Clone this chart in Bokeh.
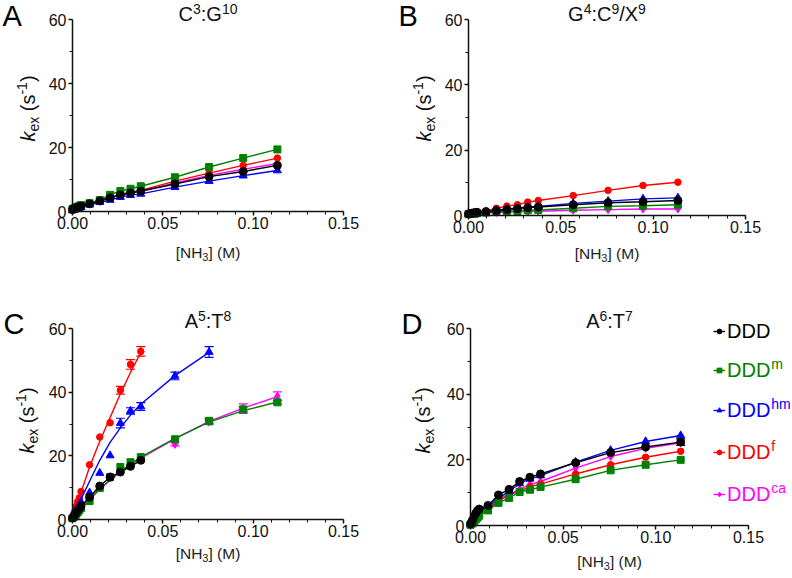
import math
from bokeh.plotting import figure
from bokeh.models import (Range1d, Label, Legend, LegendItem, Whisker,
                          ColumnDataSource, TeeHead, FixedTicker, NumeralTickFormatter)
from bokeh.layouts import column, row
from bokeh.embed import file_html
from bokeh.resources import INLINE

# ---------------- data ----------------
NH3 = [0.0, 0.00094, 0.00189, 0.00283, 0.00378, 0.00472, 0.00945, 0.0151,
       0.0208, 0.0265, 0.0321, 0.0378, 0.0567, 0.0756, 0.0945, 0.1134]

SERIES = ["DDD", "DDDm", "DDDhm", "DDDf", "DDDca"]
SERIES_SUP = ["", "m", "hm", "f", "ca"]
COLORS = ["#000000", "#008000", "#0000ff", "#ff0000", "#ff00ff"]
MARKERS = ["circle", "square", "triangle", "circle", "diamond"]
SIZES = [8, 7, 8, 6.5, 8]

LETTERS = ["A", "B", "C", "D"]
X_TICKS = [0.0, 0.05, 0.10, 0.15]
Y_TICKS = [0, 20, 40, 60]

# Panel A  (C3:G10)
A_DDD   = [0.6, 0.9, 1.1, 1.3, 1.5, 1.7, 2.4, 3.3, 4.3, 5.2, 5.8, 6.4, 8.6, 10.9, 12.5, 14.4]
A_DDDm  = [0.8, 1.0, 1.3, 1.5, 1.7, 2.0, 2.6, 3.6, 5.2, 6.4, 7.1, 7.9, 10.7, 13.9, 16.7, 19.4]
A_DDDhm = [0.3, 0.5, 0.7, 0.9, 1.1, 1.3, 2.1, 2.9, 3.6, 4.5, 5.1, 5.5, 7.6, 9.5, 11.2, 12.8]
A_DDDf  = [0.6, 0.9, 1.1, 1.3, 1.5, 1.8, 2.5, 3.4, 4.4, 5.3, 6.0, 6.6, 9.5, 12.0, 14.4, 16.7]
A_DDDca = [0.6, 0.9, 1.1, 1.3, 1.5, 1.7, 2.4, 3.3, 4.3, 5.1, 5.8, 6.3, 8.9, 11.3, 13.2, 15.0]

# Panel B  (G4:C9/X9)
B_DDD   = [0.5, 0.6, 0.7, 0.8, 0.85, 0.9, 1.1, 1.5, 1.8, 2.1, 2.4, 2.6, 3.3, 3.9, 4.2, 4.6]
B_DDDm  = [0.4, 0.5, 0.55, 0.6, 0.65, 0.7, 0.9, 1.1, 1.3, 1.4, 1.6, 1.7, 2.2, 2.8, 3.0, 3.3]
B_DDDhm = [0.4, 0.5, 0.6, 0.7, 0.8, 0.9, 1.2, 1.6, 2.0, 2.3, 2.6, 2.8, 3.7, 4.4, 5.1, 5.4]
B_DDDf  = [0.5, 0.6, 0.7, 0.9, 1.0, 1.2, 1.5, 2.2, 2.9, 3.3, 4.1, 4.6, 6.1, 7.7, 9.2, 10.2]
B_DDDca = [0.3, 0.4, 0.45, 0.5, 0.55, 0.6, 0.8, 0.9, 1.0, 1.1, 1.2, 1.3, 1.6, 1.8, 2.0, 2.0]

# Panel C  (A5:T8)
C_DDD   = [0.5, 1.2, 2.0, 2.8, 3.5, 4.2, 7.0, 10.5, 13.3, 14.9, 16.7, 18.6]
C_DDDm  = [0.4, 0.9, 1.5, 2.2, 2.9, 3.6, 5.8, 9.9, 13.3, 16.5, 18.0, 19.6, 25.2, 31.0, 34.6, 36.8]
C_DDDhm = [0.5, 1.5, 2.5, 3.5, 4.5, 5.5, 8.4, 14.6, 20.1, 30.3, 34.1, 35.5, 45.1, 52.6]
C_DDDf  = [0.6, 2.2, 4.1, 5.6, 6.8, 8.8, 17.2, 25.9, 30.4, 40.6, 48.7, 52.8]
C_DDDca = [0.4, 0.9, 1.5, 2.1, 2.7, 3.3, 6.5, 10.2, 13.5, 15.5, 17.3, 19.2, 23.6, 30.6, 34.8, 38.7]
# fitted curves drawn through the points
C_FIT_DDDm  = [0.0, 0.7, 1.4, 2.1, 2.8, 3.5, 6.4, 9.6, 12.5, 15.1, 17.4, 19.6, 25.5, 30.6, 34.2, 36.9]
C_FIT_DDDhm = [0.0, 1.3, 2.6, 3.9, 5.2, 6.4, 12.0, 18.6, 24.2, 28.8, 32.8, 36.2, 45.2, 52.5]
C_FIT_DDDf  = [0.0, 1.7, 3.4, 5.1, 6.8, 8.5, 16.5, 24.6, 32.0, 39.5, 46.2, 52.5]
C_FIT_DDDca = [0.0, 0.7, 1.4, 2.1, 2.8, 3.4, 6.3, 9.4, 12.3, 14.9, 17.2, 19.3, 25.3, 30.8, 35.0, 38.6]
# error bars (+/-)
C_ERR_DDDm  = [0, 0, 0, 0, 0, 0, 0, 0, 0, 0, 0, 0, 0, 0.8, 0.8, 0.6]
C_ERR_DDDhm = [0, 0, 0, 0, 0, 0, 0, 0, 0, 1.5, 1.0, 1.2, 1.2, 1.7]
C_ERR_DDDf  = [0, 0, 0, 0, 0, 0, 0, 0, 0, 1.2, 1.5, 1.5]
C_ERR_DDDca = [0, 0, 0, 0, 0, 0, 0, 0, 0, 0, 0, 0, 0.5, 0.8, 1.5, 1.4]

# Panel D  (A6:T7)
D_DDD   = [0.5, 1.5, 2.7, 3.7, 4.5, 5.0, 6.1, 9.3, 11.0, 13.4, 14.7, 15.7, 19.1, 22.2, 23.9, 25.4]
D_DDDm  = [0.2, 0.6, 1.2, 1.8, 2.4, 3.0, 4.6, 6.9, 8.4, 10.2, 10.9, 11.7, 14.1, 16.8, 18.5, 20.0]
D_DDDhm = [0.3, 1.0, 1.9, 2.8, 3.6, 4.3, 5.8, 8.3, 10.4, 12.8, 14.2, 15.2, 19.3, 22.9, 25.6, 27.4]
D_DDDf  = [0.3, 0.8, 1.5, 2.2, 2.9, 3.5, 5.0, 7.5, 9.3, 10.5, 11.8, 12.6, 15.7, 18.5, 20.8, 22.6]
D_DDDca = [0.3, 0.9, 1.7, 2.5, 3.2, 3.9, 5.5, 8.0, 9.5, 11.0, 12.5, 13.4, 17.5, 21.0, 23.5, 25.2]
D_ERR_DDD = [0, 0, 0, 0, 0, 0, 0, 0, 0, 0, 0, 0, 0, 0, 0, 1.0]

PANEL_DATA = [
    {"y": [A_DDD, A_DDDm, A_DDDhm, A_DDDf, A_DDDca]},
    {"y": [B_DDD, B_DDDm, B_DDDhm, B_DDDf, B_DDDca]},
    {"y": [C_DDD, C_DDDm, C_DDDhm, C_DDDf, C_DDDca],
     "fit": [None, C_FIT_DDDm, C_FIT_DDDhm, C_FIT_DDDf, C_FIT_DDDca],
     "err": [None, C_ERR_DDDm, C_ERR_DDDhm, C_ERR_DDDf, C_ERR_DDDca]},
    {"y": [D_DDD, D_DDDm, D_DDDhm, D_DDDf, D_DDDca],
     "err": [D_ERR_DDD, None, None, None, None]},
]

# ---------------- layout (page pixel geometry) ----------------
# figure origin x, origin y, width, height, data-box left, right, top, bottom
GEOM = [
    (0, 0, 396, 289, 72, 343, 19, 211),
    (396, 0, 394, 289, 468, 745, 19, 215),
    (0, 289, 396, 287, 72, 343, 328, 519),
    (396, 289, 394, 287, 470, 748, 328, 525),
]
XMAX, YMAX = 0.15, 60.0
FONT = "Liberation Sans"
MID = 0.3465   # distance (em) from the alphabetic baseline up to the text-box middle

# Arial/Liberation advance widths (1/1000 em)
AW = {"D": 722, "C": 722, "G": 778, "A": 667, "T": 611, "X": 667, "N": 722,
      "H": 722, "M": 833, ":": 278, "/": 278, "[": 278, "]": 278, "(": 333,
      ")": 333, " ": 278, "k": 500, "e": 556, "x": 500, "s": 500, "-": 333,
      "m": 833, "h": 556, "f": 278, "c": 500, "a": 556}


def tw(s, size):
    return sum(AW.get(ch, 556) for ch in s) * size / 1000.0


def to_data(g, X, Y):
    ox, oy, w, h, fl, fr, ft, fb = g
    return (X - fl) / (fr - fl) * XMAX, (fb - Y) / (fb - ft) * YMAX


def make_fig(g):
    ox, oy, w, h, fl, fr, ft, fb = g
    x0, y1 = to_data(g, ox, oy)
    x1, y0 = to_data(g, ox + w, oy + h)
    p = figure(width=w, height=h, x_range=Range1d(x0, x1), y_range=Range1d(y0, y1),
               output_backend="svg", toolbar_location=None, title=None,
               min_border=0, min_border_left=0, min_border_right=0,
               min_border_top=0, min_border_bottom=0)
    p.outline_line_color = None
    p.grid.visible = False
    p.background_fill_color = "white"
    p.border_fill_color = "white"
    for ax in (p.xaxis[0], p.yaxis[0]):
        ax.fixed_location = 0
        ax.axis_line_width = 1.5
        ax.axis_line_color = "#111111"
        ax.major_tick_line_color = "#111111"
        ax.major_tick_line_width = 1.5
        ax.minor_tick_line_color = "#111111"
        ax.minor_tick_line_width = 1
        ax.major_tick_out = 4
        ax.major_tick_in = 0
        ax.minor_tick_out = 3
        ax.minor_tick_in = 0
        ax.major_label_text_font = FONT
        ax.major_label_text_font_size = "16px"
        ax.major_label_text_color = "#111111"
    p.xaxis.bounds = (0, XMAX)
    p.yaxis.bounds = (0, YMAX)
    p.xaxis.ticker = FixedTicker(ticks=X_TICKS, minor_ticks=[i * 0.01 for i in range(16)])
    p.xaxis.formatter = NumeralTickFormatter(format="0.00")
    p.xaxis.major_label_standoff = 1
    p.yaxis.ticker = FixedTicker(ticks=Y_TICKS, minor_ticks=[10, 30, 50])
    p.yaxis.major_label_standoff = 2
    return p


def label(p, g, X, Y, text, size, color="#111111", style="normal", rotated=False):
    """Place text whose alphabetic baseline starts at page point (X, Y)."""
    if rotated:
        X = X - MID * size
    else:
        Y = Y - MID * size
    dx, dy = to_data(g, X, Y)
    p.add_layout(Label(x=dx, y=dy, text=text, text_font=FONT, text_font_size=f"{size}px",
                       text_color=color, text_font_style=style,
                       angle=(math.pi / 2 if rotated else 0.0),
                       text_align="left", text_baseline="middle"))


def run_width(runs):
    return sum(tw(t, s) if t is not None else s for t, s, _, _ in runs)


def runs_h(p, g, x0, y0, runs, color="#111111"):
    x = x0
    for text, size, shift, style in runs:
        if text is None:          # a plain gap of `size` pixels
            x += size
            continue
        label(p, g, x, y0 - shift, text, size, color, style)
        x += tw(text, size)


def runs_v(p, g, xb, y0, runs, color="#111111"):
    y = y0
    for text, size, shift, style in runs:
        if text is None:
            y -= size
            continue
        label(p, g, xb - shift, y, text, size, color, style, rotated=True)
        y -= tw(text, size)


N = "normal"
TITLE_RUNS = [
    [("C", 20, 0, N), ("3", 14, 7, N), (":G", 20, 0, N), ("10", 14, 7, N)],
    [("G", 20, 0, N), ("4", 14, 7, N), (":C", 20, 0, N), ("9", 14, 7, N),
     ("/X", 20, 0, N), ("9", 14, 7, N)],
    [("A", 20, 0, N), ("5", 14, 7, N), (":T", 20, 0, N), ("8", 14, 7, N)],
    [("A", 20, 0, N), ("6", 14, 7, N), (":T", 20, 0, N), ("7", 14, 7, N)],
]
TITLE_BASE = [20.5, 20.5, 327, 327]
LETTER_POS = [(2, 26), (398, 26), (3, 334), (401, 334)]
XLABEL_BASE = [257, 258, 558, 566]
YLABEL_START = [141, 141, 453, 453]
YLABEL_X = [34, 430, 33, 429]
LEG_Y = [331, 370, 410, 452, 494]

figs = []
for k, g in enumerate(GEOM):
    p = make_fig(g)
    ox, oy, w, h, fl, fr, ft, fb = g
    d = PANEL_DATA[k]
    fits = d.get("fit", [None] * 5)
    errs = d.get("err", [None] * 5)
    rends = {}
    for i in [4, 3, 2, 1, 0]:
        ys = d["y"][i]
        xs = NH3[:len(ys)]
        c = COLORS[i]
        fy = fits[i] if fits[i] is not None else ys
        lr = p.line(NH3[:len(fy)], fy, line_color=c, line_width=1.4)
        e = errs[i]
        if e is not None:
            idx = [j for j in range(len(e)) if e[j] > 0]
            src = ColumnDataSource(dict(x=[xs[j] for j in idx],
                                        up=[ys[j] + e[j] for j in idx],
                                        lo=[ys[j] - e[j] for j in idx]))
            p.add_layout(Whisker(source=src, base="x", upper="up", lower="lo",
                                 line_color=c, line_width=1.2,
                                 upper_head=TeeHead(size=9, line_color=c, line_width=1.2),
                                 lower_head=TeeHead(size=9, line_color=c, line_width=1.2)))
        sr = p.scatter(xs, ys, marker=MARKERS[i], size=SIZES[i], fill_color=c, line_color=c)
        rends[i] = (lr, sr)

    # title
    tot = run_width(TITLE_RUNS[k])
    runs_h(p, g, (fl + fr) / 2 - tot / 2, TITLE_BASE[k], TITLE_RUNS[k])
    # panel letter
    label(p, g, LETTER_POS[k][0], LETTER_POS[k][1], LETTERS[k], 29, "#000000")
    # x axis label  [NH3] (M)
    xr = [("[NH", 15.5, 0, N), ("3", 11, -3, N), ("] (M)", 15.5, 0, N)]
    tot = run_width(xr)
    runs_h(p, g, (fl + fr) / 2 - tot / 2, XLABEL_BASE[k], xr, "#222222")
    # y axis label  k_ex (s^-1)
    yr = [("k", 20, 0, "italic"), ("ex", 14, -4, N), (None, 5.5, 0, N), ("(s", 20, 0, N),
          ("-1", 14, 8, N), (")", 20, 0, N)]
    runs_v(p, g, YLABEL_X[k], YLABEL_START[k], yr)

    if k == 3:
        for i in range(5):
            yc = LEG_Y[i]
            leg = Legend(items=[LegendItem(label=SERIES[i][:3], renderers=list(rends[i]))],
                         location=(713 - ox, (oy + h) - (yc + 12)),
                         glyph_width=12, glyph_height=24, label_height=24,
                         label_standoff=2, padding=0, margin=0, spacing=0,
                         border_line_color=None, background_fill_alpha=0,
                         label_text_font=FONT, label_text_font_size="20px",
                         label_text_color=COLORS[i])
            p.add_layout(leg)
            sup = SERIES_SUP[i]
            if sup:
                label(p, g, 727 + tw("DDD", 20) + 0.5, yc - 1.5, sup, 14, COLORS[i])
    figs.append(p)

layout = column(row(figs[0], figs[1]), row(figs[2], figs[3]))
open("out.html", "w").write(file_html(layout, INLINE))
